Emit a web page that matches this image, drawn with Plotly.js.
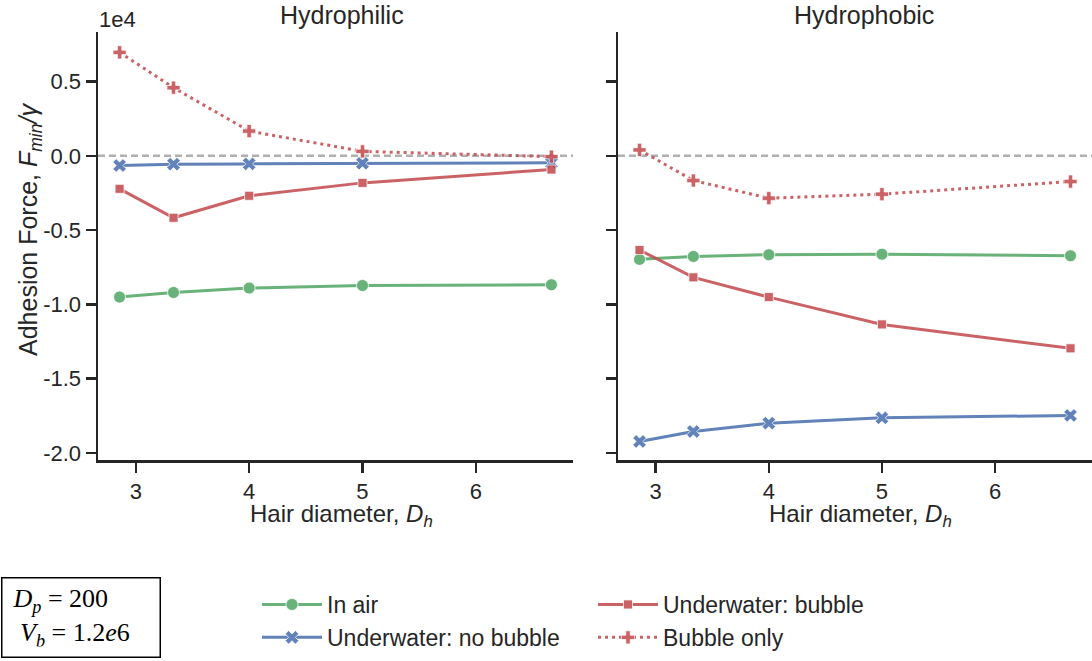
<!DOCTYPE html>
<html>
<head>
<meta charset="utf-8">
<script src="https://cdn.plot.ly/plotly-3.0.1.min.js"></script>
<style>html,body{margin:0;padding:0;background:#fff;}#chart{width:1092px;height:661px;}</style>
</head>
<body>
<div id="chart"></div>
<script>
// Hair diameter values (x axis)
const hairDiameter = [2.857, 3.333, 4.0, 5.0, 6.667];

// Hydrophilic panel (Fmin/gamma)
const philicInAir      = [-9510, -9200, -8900, -8730, -8680];
const philicNoBubble   = [-650, -560, -540, -500, -470];
const philicBubble     = [-2220, -4170, -2690, -1820, -920];
const philicBubbleOnly = [6970, 4590, 1670, 300, -50];

// Hydrophobic panel (Fmin/gamma)
const phobicInAir      = [-6970, -6770, -6660, -6620, -6730];
const phobicNoBubble   = [-19230, -18560, -18000, -17640, -17480];
const phobicBubble     = [-6340, -8180, -9510, -11350, -12960];
const phobicBubbleOnly = [400, -1660, -2850, -2580, -1730];

const seriesNames = ['In air', 'Underwater: no bubble', 'Underwater: bubble', 'Bubble only'];
const xTickVals = [3, 4, 5, 6];
const yTickVals = [-20000, -15000, -10000, -5000, 0, 5000];
const yTickText = ['-2.0', '-1.5', '-1.0', '-0.5', '0.0', '0.5'];

const GREEN = '#55A868', BLUE = '#4C72B0', RED = '#C44E52';
const INK = '#262626';
const FONT = 'Liberation Sans, Arial, sans-serif';

const styles = [
  {color: GREEN, symbol: 'circle', size: 12, dash: 'solid', legend: 'legend'},
  {color: BLUE,  symbol: 'x',      size: 12, dash: 'solid', legend: 'legend'},
  {color: RED,   symbol: 'square', size: 9,  dash: 'solid', legend: 'legend2'},
  {color: RED,   symbol: 'cross',  size: 11, dash: '3px,4px', legend: 'legend2'}
];

function mk(yvals, idx, xa, ya, showLegend) {
  const s = styles[idx];
  return {
    type: 'scatter', mode: 'lines+markers',
    x: hairDiameter, y: yvals, xaxis: xa, yaxis: ya,
    name: seriesNames[idx], legend: s.legend, showlegend: showLegend,
    opacity: 0.88,
    line: {color: s.color, width: 3, dash: s.dash},
    marker: {color: s.color, symbol: s.symbol, size: s.size,
             line: {color: 'rgba(255,255,255,0.75)', width: 1}}
  };
}

const data = [
  mk(philicInAir, 0, 'x', 'y', true),
  mk(philicNoBubble, 1, 'x', 'y', true),
  mk(philicBubble, 2, 'x', 'y', true),
  mk(philicBubbleOnly, 3, 'x', 'y', true),
  mk(phobicInAir, 0, 'x2', 'y2', false),
  mk(phobicNoBubble, 1, 'x2', 'y2', false),
  mk(phobicBubble, 2, 'x2', 'y2', false),
  mk(phobicBubbleOnly, 3, 'x2', 'y2', false)
];

const W = 1092, H = 661;
const px = v => v / W;
const py = v => 1 - v / H;

const xCommon = {
  range: [2.6667, 6.8571], tickvals: xTickVals, ticks: 'outside', ticklen: 10, tickwidth: 2.5,
  tickcolor: INK, showline: true, linecolor: INK, linewidth: 2.5, showgrid: false, zeroline: false,
  tickfont: {family: FONT, size: 22, color: INK}
};
const yCommon = {
  range: [-20480, 8340], tickvals: yTickVals, ticktext: yTickText, ticks: 'outside', ticklen: 10,
  tickwidth: 2.5, tickcolor: INK, showline: true, linecolor: INK, linewidth: 2.5, showgrid: false,
  zeroline: false, tickfont: {family: FONT, size: 22, color: INK},
  domain: [py(460), py(32)]
};

const layout = {
  width: W, height: H,
  margin: {l: 0, r: 0, t: 0, b: 0},
  paper_bgcolor: '#fff', plot_bgcolor: '#fff',
  font: {family: FONT, color: INK},
  xaxis: Object.assign({}, xCommon, {domain: [px(98), px(573)], anchor: 'y'}),
  xaxis2: Object.assign({}, xCommon, {domain: [px(618), 1], anchor: 'y2'}),
  yaxis: Object.assign({}, yCommon, {anchor: 'x'}),
  yaxis2: Object.assign({}, yCommon, {anchor: 'x2', matches: 'y', showticklabels: false}),
  shapes: [
    {type: 'line', xref: 'x domain', yref: 'y', x0: 0, x1: 1, y0: 0, y1: 0, layer: 'below',
     line: {color: '#b0b0b0', width: 2.5, dash: '7px,4px'}},
    {type: 'line', xref: 'x2 domain', yref: 'y2', x0: 0, x1: 1, y0: 0, y1: 0, layer: 'below',
     line: {color: '#b0b0b0', width: 2.5, dash: '7px,4px'}}
  ],
  legend: {x: px(257), y: py(583), xanchor: 'left', yanchor: 'top', orientation: 'v',
           bgcolor: 'rgba(0,0,0,0)', itemwidth: 60, font: {family: FONT, size: 23, color: INK}},
  legend2: {x: px(593), y: py(583), xanchor: 'left', yanchor: 'top', orientation: 'v',
           bgcolor: 'rgba(0,0,0,0)', itemwidth: 60, font: {family: FONT, size: 23, color: INK}},
  annotations: [
    {text: 'Hydrophilic', xref: 'paper', yref: 'paper', x: px(342), y: py(15), xanchor: 'center', yanchor: 'middle',
     showarrow: false, font: {family: FONT, size: 25, color: INK}},
    {text: 'Hydrophobic', xref: 'paper', yref: 'paper', x: px(864), y: py(15), xanchor: 'center', yanchor: 'middle',
     showarrow: false, font: {family: FONT, size: 25, color: INK}},
    {text: '1e4', xref: 'paper', yref: 'paper', x: px(97), y: py(20), xanchor: 'left', yanchor: 'middle',
     showarrow: false, font: {family: FONT, size: 22, color: INK}},
    {text: 'Hair diameter, <i>D</i><sub><i>h</i></sub>', xref: 'paper', yref: 'paper', x: px(341), y: py(515),
     xanchor: 'center', yanchor: 'middle', showarrow: false, font: {family: FONT, size: 24, color: INK}},
    {text: 'Hair diameter, <i>D</i><sub><i>h</i></sub>', xref: 'paper', yref: 'paper', x: px(860), y: py(515),
     xanchor: 'center', yanchor: 'middle', showarrow: false, font: {family: FONT, size: 24, color: INK}},
    {text: 'Adhesion Force, <i>F</i><sub><i>min</i></sub><i>/γ</i>', xref: 'paper', yref: 'paper',
     x: px(30), y: py(230), xanchor: 'center', yanchor: 'middle', textangle: -90, showarrow: false,
     font: {family: FONT, size: 25, color: INK}},
    {text: '<i>D</i><sub><i>p</i></sub> = 200<br> <i>V</i><sub><i>b</i></sub> = 1.2<i>e</i>6',
     xref: 'paper', yref: 'paper', x: px(1), y: py(577), xanchor: 'left', yanchor: 'top',
     showarrow: false, align: 'left', width: 137, height: 58, borderpad: 10,
     bordercolor: '#000', borderwidth: 1.5, bgcolor: '#fff',
     font: {family: 'Liberation Serif, Times New Roman, serif', size: 26, color: '#000'}}
  ]
};

Plotly.newPlot('chart', data, layout, {displayModeBar: false, staticPlot: true});
</script>
</body>
</html>
